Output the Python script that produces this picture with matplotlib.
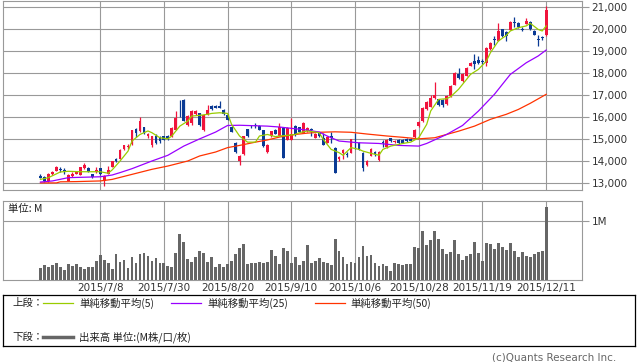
import numpy as np
import matplotlib
matplotlib.use("Agg")
import matplotlib.pyplot as plt

plt.rcParams['font.family'] = ['DejaVu Sans', 'Noto Sans CJK JP']
jp = ['Noto Sans CJK JP', 'DejaVu Sans']

# ---- data ----
opens = [13320, 13260, 13080, 13390, 13530, 13620, 13560, 13100, 13290, 13400,
         13350, 13650, 13680, 13380, 13480, 13650, 13080, 13400, 13720, 14100,
         14100, 14520, 14650, 14750, 15430, 15340, 15520, 15130, 14700, 15120,
         15090, 15120, 15130, 15120, 15420, 16200, 16790, 15650, 15700, 16140,
         16180, 15420, 16100, 16500, 16520, 16500, 16330, 16110, 15550, 14820,
         13980, 14290, 15450, 15560, 15620, 15600, 15390, 14390, 15120, 15420,
         15150, 15500, 14970, 14970, 15580, 15530, 15270, 15350, 15450, 15050,
         15280, 15050, 14820, 15150, 14590, 14060, 14340, 14310, 14370, 14850,
         14820, 14370, 13800, 14220, 14420, 14050, 14850, 14650, 15030, 14860,
         14950, 14960, 14990, 15000, 15080, 15580, 15800, 16350, 16470, 16850,
         16800, 16770, 16570, 16950, 17470, 17970, 17620, 17880, 18330, 18530,
         18600, 18520, 18450, 19090, 19560, 19480, 20000, 19890, 19970, 20330,
         20300, 20010, 20240, 20330, 19940, 19560, 19640, 19740]
highs = [13380, 13290, 13420, 13530, 13740, 13720, 13650, 13400, 13480, 13520,
         13720, 13880, 13700, 13400, 13700, 13680, 13330, 13780, 14010, 14120,
         14520, 14740, 14750, 15420, 15480, 16000, 15550, 15280, 15150, 15200,
         15150, 15150, 15160, 15520, 16260, 16790, 16800, 16100, 16300, 16330,
         16200, 16150, 16560, 16530, 16560, 16720, 16380, 16140, 15580, 14850,
         14260, 15140, 15470, 15650, 15700, 15650, 15420, 14760, 15380, 15450,
         15700, 15520, 15520, 15950, 15620, 15560, 15750, 15530, 15500, 15260,
         15300, 15280, 15120, 15300, 14620, 14200, 14520, 14380, 15000, 15250,
         14850, 14400, 14020, 14580, 14450, 14450, 14950, 15000, 15060, 14950,
         14980, 14990, 15050, 15050, 15450, 15800, 16450, 16720, 17000, 17580,
         16830, 16800, 16980, 17450, 18030, 18250, 18000, 18260, 18510, 18880,
         18800, 18650, 19170, 19420, 19700, 20270, 20030, 19920, 20380, 20560,
         20330, 20100, 20500, 20360, 19960, 19750, 19700, 21060]
lows = [13200, 13030, 13050, 13370, 13520, 13480, 13380, 13080, 13270, 13380,
        13330, 13630, 13480, 13200, 13450, 13350, 12850, 13380, 13700, 13960,
        14080, 14500, 14520, 14730, 15100, 15320, 15230, 15050, 14650, 14780,
        14820, 14950, 14960, 15100, 15400, 16000, 15800, 15600, 15650, 16100,
        15600, 15380, 16080, 16330, 16400, 16400, 16100, 15840, 15300, 14360,
        13830, 14270, 15100, 15480, 15500, 15400, 14650, 14370, 15100, 15220,
        15130, 14120, 14950, 14950, 15150, 15300, 15250, 15330, 15150, 15020,
        15100, 14700, 14800, 14800, 13420, 14000, 14100, 14150, 14350, 14520,
        14470, 13550, 13780, 14200, 14200, 14000, 14650, 14600, 14850, 14800,
        14780, 14800, 14850, 14900, 15060, 15560, 15780, 16330, 16450, 16830,
        16500, 16450, 16550, 16930, 17450, 17740, 17600, 17860, 18300, 18200,
        18430, 18420, 18300, 19070, 19300, 19460, 19650, 19450, 19950, 20120,
        20050, 19900, 20220, 19970, 19720, 19230, 19500, 19700]
closes = [13230, 13080, 13400, 13500, 13710, 13590, 13530, 13350, 13410, 13480,
          13700, 13800, 13500, 13240, 13560, 13380, 13300, 13560, 13990, 13980,
          14490, 14720, 14690, 15390, 15280, 15800, 15250, 15200, 15120, 14820,
          14900, 14970, 15000, 15500, 15950, 16160, 15830, 16030, 16250, 16290,
          15650, 16100, 16330, 16360, 16420, 16420, 16120, 15860, 15330, 14390,
          14240, 15120, 15120, 15520, 15580, 15420, 14670, 14740, 15350, 15240,
          15550, 14140, 15500, 15230, 15200, 15320, 15730, 15500, 15400, 15230,
          15130, 14740, 15100, 15050, 13450, 14180, 14490, 14280, 14980, 14800,
          14490, 13680, 13990, 14550, 14300, 14420, 14820, 14950, 14880, 14890,
          14800, 14830, 14880, 14920, 15410, 15770, 16420, 16700, 16850, 17000,
          16530, 16550, 16950, 17420, 18000, 17760, 17970, 18230, 18480, 18410,
          18450, 18500, 19140, 19390, 19520, 19920, 19670, 19700, 20350, 20290,
          20080, 19980, 20390, 19990, 19740, 19520, 19600, 20880]
# volume, millions
volumes = [0.198, 0.254, 0.226, 0.254, 0.282, 0.226, 0.169, 0.271, 0.243, 0.271,
           0.226, 0.186, 0.226, 0.226, 0.322, 0.424, 0.339, 0.288, 0.186, 0.441,
           0.300, 0.339, 0.209, 0.390, 0.288, 0.441, 0.458, 0.407, 0.330, 0.373,
           0.288, 0.288, 0.243, 0.226, 0.458, 0.780, 0.644, 0.356, 0.305, 0.390,
           0.492, 0.458, 0.300, 0.390, 0.220, 0.271, 0.220, 0.271, 0.322, 0.441,
           0.548, 0.610, 0.271, 0.280, 0.288, 0.305, 0.288, 0.305, 0.508, 0.407,
           0.271, 0.542, 0.492, 0.288, 0.390, 0.254, 0.322, 0.593, 0.288, 0.322,
           0.378, 0.300, 0.288, 0.254, 0.695, 0.492, 0.390, 0.271, 0.305, 0.288,
           0.390, 0.576, 0.407, 0.424, 0.288, 0.237, 0.271, 0.237, 0.153, 0.288,
           0.271, 0.260, 0.271, 0.270, 0.559, 0.542, 0.831, 0.593, 0.678, 0.831,
           0.695, 0.525, 0.441, 0.475, 0.678, 0.441, 0.339, 0.400, 0.441, 0.644,
           0.458, 0.322, 0.627, 0.610, 0.525, 0.627, 0.559, 0.508, 0.627, 0.492,
           0.390, 0.475, 0.407, 0.390, 0.441, 0.475, 0.500, 1.237]

# moving averages read at sample days
ma5_idx = [0, 2, 5, 7, 10, 13, 15, 17, 18, 20, 22, 23, 25, 27, 28, 30, 32, 33, 35, 37,
           38, 40, 42, 43, 45, 47, 48, 50, 52, 54, 55, 57, 59, 60, 62, 64, 65, 67, 69, 70,
           71, 73, 75, 76, 78, 80, 81, 83, 85, 86, 88, 90, 91, 93, 95, 97, 98, 100, 102, 103,
           105, 107, 108, 110, 112, 113, 115, 117, 118, 120, 122, 123, 125, 126, 127]
ma5_val = [13150, 13230, 13490, 13520, 13500, 13500, 13500, 13430, 13580, 13990,
           14440, 14900, 15200, 15360, 15280, 15050, 15000, 15130, 15580, 15810,
           16040, 16070, 16120, 16160, 16190, 16160, 15660, 15130, 14850, 14850,
           15130, 15200, 15100, 15130, 15160, 15200, 15280, 15360, 15310, 15280,
           14980, 14520, 14370, 14250, 14600, 14520, 14440, 14340, 14250, 14520,
           14670, 14750, 14790, 14850, 15050, 15660, 16270, 16800, 16830, 16920,
           17260, 17710, 17940, 18170, 18550, 18930, 19460, 19720, 19920, 20070,
           20150, 20270, 19990, 19920, 20150]
ma25_idx = [0, 3, 7, 15, 18, 20, 23, 28, 32, 36, 40, 44, 46, 47, 50, 57, 60, 64, 67, 70,
            72, 75, 80, 85, 90, 95, 97, 102, 106, 110, 114, 118, 122, 125, 127]
ma25_val = [13030, 13080, 13230, 13270, 13350, 13460, 13640, 13990, 14250, 14670,
            15000, 15310, 15510, 15610, 15620, 15580, 15540, 15460, 15400, 15310,
            15130, 14900, 14820, 14790, 14700, 14670, 14790, 15200, 15610, 16270,
            17030, 17940, 18470, 18780, 19050]
ma50_idx = [0, 4, 5, 9, 15, 18, 23, 28, 32, 37, 40, 44, 47, 50, 54, 57, 60, 64, 67, 70,
            74, 78, 82, 87, 91, 95, 99, 102, 105, 109, 113, 117, 120, 123, 127]
ma50_val = [12990, 12990, 13040, 13050, 13080, 13150, 13380, 13610, 13760, 13990,
            14220, 14400, 14600, 14700, 14850, 14950, 15080, 15200, 15260, 15300,
            15320, 15300, 15220, 15130, 15070, 15000, 15050, 15200, 15350, 15580,
            15890, 16120, 16340, 16620, 17030]

date_idx = [15, 31, 47, 63, 79, 95, 111, 127]
date_labels = ["2015/7/8", "2015/7/30", "2015/8/20", "2015/9/10",
               "2015/10/6", "2015/10/28", "2015/11/19", "2015/12/11"]
price_ticks = list(range(13000, 21001, 1000))

# ---- colours ----
up_col = '#f0143c'
down_col = '#0a3a94'
ma5_col = '#99cc00'
ma25_col = '#9900ff'
ma50_col = '#ff3300'
vol_col = '#666666'
grid_col = '#999999'

W, H = 638, 362
def box(l, t, r, b):
    return [l / W, 1 - b / H, (r - l) / W, (b - t) / H]

fig = plt.figure(figsize=(W / 100, H / 100), dpi=100)
ax = fig.add_axes(box(3, 1, 582, 190))
axv = fig.add_axes(box(3, 201, 582, 280))
axl = fig.add_axes(box(3, 295, 635, 346))

o = np.array(opens); c = np.array(closes)
x = np.arange(len(c))
cols = np.where(c >= o, up_col, down_col)

# candles
ax.vlines(x, lows, highs, colors=cols, lw=0.9, zorder=3)
ax.bar(x, np.maximum(np.abs(c - o), 40), bottom=np.minimum(o, c), width=0.7,
       color=cols, lw=0, zorder=3)
ax.plot(ma50_idx, ma50_val, color=ma50_col, lw=0.9, zorder=4)
ax.plot(ma25_idx, ma25_val, color=ma25_col, lw=0.9, zorder=4)
ax.plot(ma5_idx, ma5_val, color=ma5_col, lw=0.9, zorder=5)

axv.bar(x, volumes, width=0.7, color=vol_col, lw=0, zorder=3)

for a in (ax, axv):
    a.set_xlim(-9.4, 136)
    a.set_xticks(date_idx)
    a.grid(True, color=grid_col, lw=0.8, zorder=0)
    a.set_axisbelow(True)
    a.yaxis.tick_right()
    a.tick_params(axis='x', length=0)
    a.tick_params(axis='y', length=5, width=0.8, color=grid_col, pad=2,
                  labelsize=7.5, labelcolor='#333333')
    for s in a.spines.values():
        s.set_color(grid_col)
        s.set_linewidth(0.8)

ax.set_ylim(12667, 21287)
ax.set_yticks(price_ticks)
ax.set_yticklabels([f"{v:,}" for v in price_ticks])
ax.set_xticklabels([])

axv.set_ylim(0, 1.339)
axv.set_yticks([1.0])
axv.set_yticklabels(['1M'])
axv.set_xticklabels(date_labels, fontsize=7.5, color='#333333')
axv.tick_params(axis='x', pad=2)
axv.text(0.009, 0.9, '単位: M', transform=axv.transAxes, fontsize=7.5,
         va='center', ha='left', family=jp, color='#222222')

# legend box
axl.set_xlim(0, 632)
axl.set_ylim(51, 0)
axl.set_xticks([]); axl.set_yticks([])
for s in axl.spines.values():
    s.set_color('black')
    s.set_linewidth(0.9)
r1, r2 = 8, 42
fs = 7.5
axl.text(9, r1, '上段：', fontsize=fs, va='center', family=jp, color='#222222')
axl.plot([40, 70], [r1, r1], color=ma5_col, lw=0.9)
axl.text(76, r1, '単純移動平均(5)', fontsize=fs, va='center', family=jp, color='#222222')
axl.plot([168, 198], [r1, r1], color=ma25_col, lw=0.9)
axl.text(204, r1, '単純移動平均(25)', fontsize=fs, va='center', family=jp, color='#222222')
axl.plot([312, 342], [r1, r1], color=ma50_col, lw=0.9)
axl.text(347, r1, '単純移動平均(50)', fontsize=fs, va='center', family=jp, color='#222222')
axl.text(9, r2, '下段：', fontsize=fs, va='center', family=jp, color='#222222')
axl.plot([40, 70], [r2, r2], color=vol_col, lw=2.5)
axl.text(76, r2, '出来高 単位:(M株/口/枚)', fontsize=fs, va='center', family=jp, color='#222222')

fig.text(616 / W, 1 - 357 / H, '(c)Quants Research Inc.', ha='right', va='center',
         fontsize=7.5, color='#666666')

fig.savefig('out.png', dpi=100)
